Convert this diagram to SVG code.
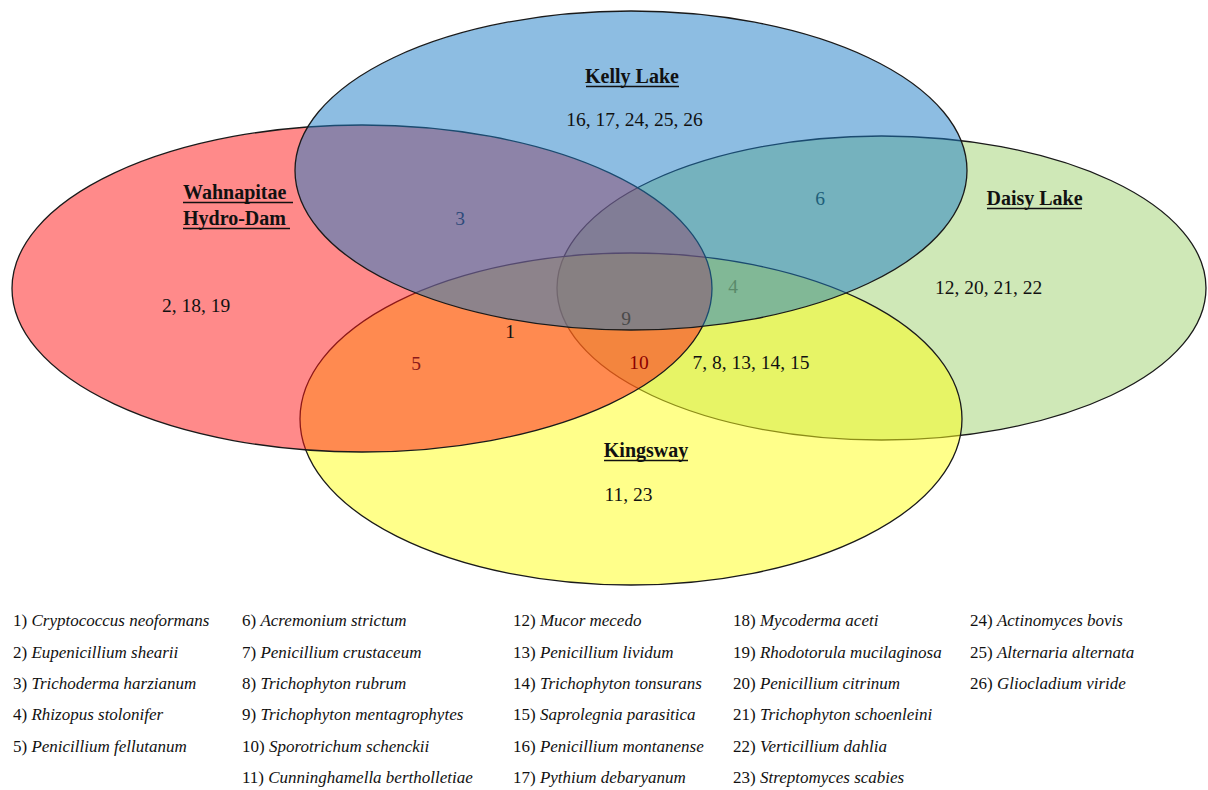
<svg xmlns="http://www.w3.org/2000/svg" width="1208" height="790" viewBox="0 0 1208 790">
<style>
.set{fill-opacity:0.5;stroke:#1a1a1a;stroke-width:1.3}
.lbl{font-family:"Liberation Serif",serif;font-weight:bold;font-size:20px;fill:#111}
.ul{stroke:#111;stroke-width:1.6}
.num{font-family:"Liberation Serif",serif;font-size:19.5px;fill:#111;text-anchor:middle}
.leg{font-family:"Liberation Serif",serif;font-size:17px;fill:#111}
.it{font-style:italic}
</style>
<rect width="1208" height="790" fill="#fff"/>
<g id="daisy-lake">
<ellipse class="set" cx="881.5" cy="288" rx="324.5" ry="152" fill="#9FD16F"/>
</g>
<g id="kingsway">
<ellipse class="set" cx="631" cy="419" rx="331" ry="166" fill="#FFFF15"/>
</g>
<g id="wahnapitae">
<ellipse class="set" cx="362" cy="288.5" rx="350" ry="163.5" fill="#FF1515"/>
</g>
<g id="kelly-lake">
<ellipse class="set" cx="631" cy="170.5" rx="336" ry="159.5" fill="#1B7BC5"/>
</g>
<g id="labels">
<text class="lbl" x="632" y="83" text-anchor="middle">Kelly Lake</text>
<line class="ul" x1="586" y1="86.5" x2="679" y2="86.5"/>
<text class="lbl" x="183" y="199">Wahnapitae</text>
<line class="ul" x1="183" y1="202.5" x2="293" y2="202.5"/>
<text class="lbl" x="183" y="225">Hydro-Dam</text>
<line class="ul" x1="183" y1="228.5" x2="290" y2="228.5"/>
<text class="lbl" x="1034.5" y="205" text-anchor="middle">Daisy Lake</text>
<line class="ul" x1="987" y1="208.5" x2="1082" y2="208.5"/>
<text class="lbl" x="646" y="457" text-anchor="middle">Kingsway</text>
<line class="ul" x1="604" y1="460.5" x2="688" y2="460.5"/>
</g>
<g id="region-numbers">
<text class="num" x="634.5" y="126">16, 17, 24, 25, 26</text>
<text class="num" x="460" y="225" fill="#2E4A7A" style="fill:#2E4A7A">3</text>
<text class="num" x="820" y="205" style="fill:#1F5F7A">6</text>
<text class="num" x="988.5" y="294">12, 20, 21, 22</text>
<text class="num" x="733" y="293" style="fill:#5A8A6A">4</text>
<text class="num" x="196" y="312">2, 18, 19</text>
<text class="num" x="510" y="338">1</text>
<text class="num" x="626" y="325" style="fill:#4A4A4A">9</text>
<text class="num" x="416" y="370" style="fill:#8B1A1A">5</text>
<text class="num" x="639" y="369" style="fill:#8B0000">10</text>
<text class="num" x="751" y="369">7, 8, 13, 14, 15</text>
<text class="num" x="628.5" y="501">11, 23</text>
</g>
<g id="legend">
<text class="leg" x="13" y="626">1) <tspan class="it">Cryptococcus neoformans</tspan></text>
<text class="leg" x="13" y="657.5">2) <tspan class="it">Eupenicillium shearii</tspan></text>
<text class="leg" x="13" y="689">3) <tspan class="it">Trichoderma harzianum</tspan></text>
<text class="leg" x="13" y="720">4) <tspan class="it">Rhizopus stolonifer</tspan></text>
<text class="leg" x="13" y="752">5) <tspan class="it">Penicillium fellutanum</tspan></text>
<text class="leg" x="242" y="626">6) <tspan class="it">Acremonium strictum</tspan></text>
<text class="leg" x="242" y="657.5">7) <tspan class="it">Penicillium crustaceum</tspan></text>
<text class="leg" x="242" y="689">8) <tspan class="it">Trichophyton rubrum</tspan></text>
<text class="leg" x="242" y="720">9) <tspan class="it">Trichophyton mentagrophytes</tspan></text>
<text class="leg" x="242" y="752">10) <tspan class="it">Sporotrichum schenckii</tspan></text>
<text class="leg" x="242" y="783">11) <tspan class="it">Cunninghamella bertholletiae</tspan></text>
<text class="leg" x="513" y="626">12) <tspan class="it">Mucor mecedo</tspan></text>
<text class="leg" x="513" y="657.5">13) <tspan class="it">Penicillium lividum</tspan></text>
<text class="leg" x="513" y="689">14) <tspan class="it">Trichophyton tonsurans</tspan></text>
<text class="leg" x="513" y="720">15) <tspan class="it">Saprolegnia parasitica</tspan></text>
<text class="leg" x="513" y="752">16) <tspan class="it">Penicillium montanense</tspan></text>
<text class="leg" x="513" y="783">17) <tspan class="it">Pythium debaryanum</tspan></text>
<text class="leg" x="733" y="626">18) <tspan class="it">Mycoderma aceti</tspan></text>
<text class="leg" x="733" y="657.5">19) <tspan class="it">Rhodotorula mucilaginosa</tspan></text>
<text class="leg" x="733" y="689">20) <tspan class="it">Penicillium citrinum</tspan></text>
<text class="leg" x="733" y="720">21) <tspan class="it">Trichophyton schoenleini</tspan></text>
<text class="leg" x="733" y="752">22) <tspan class="it">Verticillium dahlia</tspan></text>
<text class="leg" x="733" y="783">23) <tspan class="it">Streptomyces scabies</tspan></text>
<text class="leg" x="970" y="626">24) <tspan class="it">Actinomyces bovis</tspan></text>
<text class="leg" x="970" y="657.5">25) <tspan class="it">Alternaria alternata</tspan></text>
<text class="leg" x="970" y="689">26) <tspan class="it">Gliocladium viride</tspan></text>
</g>
</svg>
